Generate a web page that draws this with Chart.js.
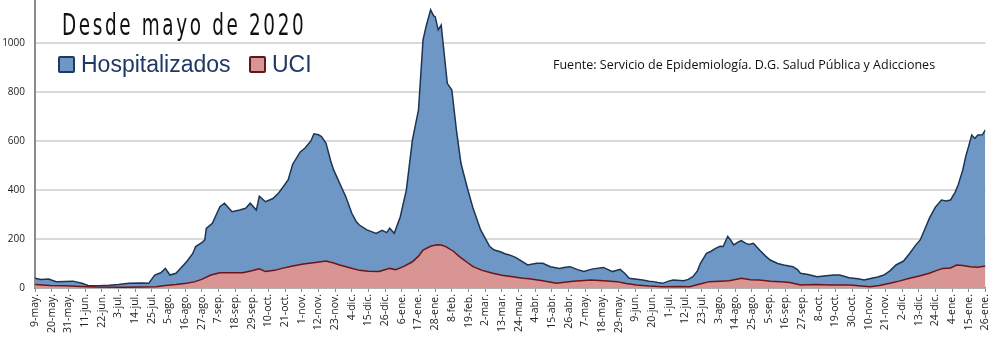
<!DOCTYPE html>
<html>
<head>
<meta charset="utf-8">
<script src="https://cdn.jsdelivr.net/npm/chart.js@4"></script>
<style>
  body { margin: 0; background: #fff; }
  #wrap { position: relative; width: 1000px; height: 342px; }
  #title { position: absolute; left: 62px; top: 6px; font-family: "DejaVu Sans Condensed", "DejaVu Sans"; font-size: 31px; letter-spacing: 4px; color: #111; transform: scaleX(0.66); transform-origin: left top; white-space: nowrap; }
  .leg { position: absolute; top: 51px; font-family: "Liberation Sans Narrow", "Liberation Sans"; font-size: 23px; color: #1f3864; white-space: nowrap; }
  .box { display: inline-block; width: 13px; height: 13px; border: 2px solid; border-radius: 2px; vertical-align: -1px; margin-right: 6px; }
  #src { position: absolute; left: 553px; top: 56px; font-family: "Open Sans"; font-size: 12.5px; color: #111; white-space: nowrap; }
</style>
</head>
<body>
<div id="wrap">
  <canvas id="chart" width="1000" height="342"></canvas>
  <div id="title">Desde mayo de 2020</div>
  <div class="leg" style="left:58px"><span class="box" style="background:#6f97c5;border-color:#1f3a5a"></span>Hospitalizados</div>
  <div class="leg" style="left:249px"><span class="box" style="background:#d99594;border-color:#5a1a1a"></span>UCI</div>
  <div id="src">Fuente: Servicio de Epidemiología. D.G. Salud Pública y Adicciones</div>
</div>
<script>
// day index counted from 9-may-2020
const tickLabels = ['9-may.', '20-may.', '31-may.', '11-jun.', '22-jun.', '3-jul.', '14-jul.', '25-jul.', '5-ago.', '16-ago.',
  '27-ago.', '7-sep.', '18-sep.', '29-sep.', '10-oct.', '21-oct.', '1-nov.', '12-nov.', '23-nov.', '4-dic.',
  '15-dic.', '26-dic.', '6-ene.', '17-ene.', '28-ene.', '8-feb.', '19-feb.', '2-mar.', '13-mar.', '24-mar.',
  '4-abr.', '15-abr.', '26-abr.', '7-may.', '18-may.', '29-may.', '9-jun.', '20-jun.', '1-jul.', '12-jul.',
  '23-jul.', '3-ago.', '14-ago.', '25-ago.', '5-sep.', '16-sep.', '27-sep.', '8-oct.', '19-oct.', '30-oct.',
  '10-nov.', '21-nov.', '2-dic.', '13-dic.', '24-dic.', '4-ene.', '15-ene.', '26-ene.'];
const yTicks = [0, 200, 400, 600, 800, 1000];

const hospDays = [0, 4, 9, 14, 20, 25, 31, 35, 42, 49, 55, 62, 70, 75, 79, 83, 86, 89, 93, 100,
  104, 106, 110, 112, 113, 117, 122, 125, 130, 135, 139, 142, 146, 148, 152, 157, 161, 167, 170, 175,
  178, 182, 184, 187, 189, 192, 195, 197, 200, 203, 205, 209, 212, 214, 219, 222, 225, 229, 232, 234,
  237, 241, 245, 249, 253, 256, 258, 261, 263, 264, 266, 268, 269, 272, 275, 278, 281, 285, 289, 294,
  300, 303, 307, 310, 313, 317, 320, 325, 331, 335, 340, 346, 350, 353, 358, 362, 368, 375, 381, 386,
  389, 392, 397, 401, 405, 408, 411, 414, 418, 421, 428, 431, 434, 437, 439, 443, 446, 449, 452, 454,
  457, 459, 461, 464, 466, 469, 471, 474, 478, 482, 485, 490, 494, 500, 503, 505, 510, 516, 522, 527,
  531, 537, 543, 547, 552, 556, 560, 564, 568, 573, 577, 581, 584, 587, 590, 594, 598, 601, 604, 607,
  609, 612, 614, 616, 618, 620, 622, 625, 627];
const hospVals = [40, 35, 37, 26, 27, 28, 19, 10, 9, 11, 14, 19, 20, 19, 53, 62, 80, 53, 60, 107,
  140, 169, 185, 196, 243, 264, 332, 346, 311, 318, 325, 346, 318, 375, 352, 365, 390, 441, 505, 555,
  570, 600, 629, 625, 618, 590, 520, 482, 441, 400, 373, 305, 270, 257, 237, 230, 223, 235, 226, 244,
  223, 291, 400, 604, 727, 1012, 1067, 1135, 1110, 1107, 1053, 1073, 1012, 835, 808, 645, 509, 413, 325, 237,
  169, 155, 148, 140, 135, 125, 114, 94, 101, 101, 87, 80, 85, 87, 75, 67, 78, 84, 67, 76,
  60, 40, 36, 33, 28, 26, 22, 19, 28, 33, 30, 35, 46, 70, 101, 141, 150, 162, 170, 169,
  210, 195, 176, 188, 193, 182, 178, 182, 155, 130, 114, 100, 94, 87, 75, 60, 55, 46, 50, 53,
  53, 42, 38, 33, 40, 45, 53, 70, 94, 110, 141, 175, 196, 240, 284, 330, 359, 355, 359, 390,
  420, 480, 536, 580, 624, 610, 624, 625, 645];

const uciDays = [0, 10, 20, 30, 40, 60, 80, 86, 93, 100, 105, 110, 116, 122, 130, 137, 143, 148, 152, 158,
  163, 170, 177, 185, 192, 197, 201, 207, 214, 220, 227, 234, 238, 243, 249, 253, 256, 261, 265, 268,
  271, 276, 280, 285, 289, 295, 302, 308, 315, 322, 326, 335, 344, 355, 367, 375, 384, 390, 397, 405,
  414, 425, 432, 438, 445, 452, 458, 466, 472, 478, 485, 492, 498, 505, 515, 525, 538, 545, 551, 557,
  564, 570, 577, 584, 590, 595, 599, 604, 608, 612, 617, 622, 627];
const uciVals = [14, 10, 9, 6, 4, 3, 5, 10, 14, 19, 25, 35, 53, 62, 62, 62, 70, 78, 67, 72,
  80, 90, 98, 104, 110, 102, 94, 84, 72, 68, 67, 80, 75, 87, 107, 130, 155, 170, 176, 175,
  169, 150, 128, 105, 87, 72, 60, 52, 46, 40, 38, 30, 19, 28, 33, 30, 26, 18, 12, 8,
  5, 6, 5, 15, 26, 28, 30, 40, 34, 33, 28, 25, 22, 12, 14, 12, 12, 8, 5, 10,
  19, 28, 40, 50, 60, 72, 80, 82, 94, 92, 87, 85, 90];

const toPts = (days, vals) => days.map((d, i) => ({ x: d, y: vals[i] }));

new Chart(document.getElementById('chart'), {
  type: 'line',
  data: {
    datasets: [{
      label: 'UCI',
      data: toPts(uciDays, uciVals),
      borderColor: '#6e1414',
      backgroundColor: '#d99594',
      borderWidth: 1.5,
      fill: 'origin',
      pointRadius: 0,
      tension: 0,
      order: 1
    }, {
      label: 'Hospitalizados',
      data: toPts(hospDays, hospVals),
      borderColor: '#1c3553',
      backgroundColor: '#6f97c5',
      borderWidth: 1.5,
      fill: 'origin',
      pointRadius: 0,
      tension: 0,
      order: 2
    }]
  },
  options: {
    responsive: false,
    animation: false,
    layout: { padding: { top: 0, right: 13, left: 0, bottom: 0 } },
    plugins: { legend: { display: false }, tooltip: { enabled: false } },
    scales: {
      x: {
        type: 'linear',
        min: 0,
        max: 627,
        afterFit: s => { s.height = 54; },
        afterBuildTicks: s => { s.ticks = tickLabels.map((_, i) => ({ value: i * 11 })); },
        ticks: {
          autoSkip: false,
          maxRotation: 90,
          minRotation: 90,
          padding: 2,
          color: '#222',
          font: { family: 'Open Sans', size: 10.5 },
          callback: v => tickLabels[Math.round(v / 11)]
        },
        grid: { drawOnChartArea: false, drawTicks: true, tickLength: 4, color: '#8a8a8a' },
        border: { color: '#8a8a8a', width: 1.5 }
      },
      y: {
        min: 0,
        max: 1175,
        afterFit: s => { s.width = 35; s.paddingTop = 0; s.paddingBottom = 0; },
        afterBuildTicks: s => { s.ticks = yTicks.map(v => ({ value: v })); },
        ticks: {
          autoSkip: false,
          padding: 10,
          color: '#222',
          font: { family: 'Open Sans', size: 10 },
          callback: v => String(v)
        },
        grid: { color: '#d9d9d9', lineWidth: 2, drawTicks: false },
        border: { color: '#8a8a8a', width: 2 }
      }
    }
  }
});
</script>
</body>
</html>
